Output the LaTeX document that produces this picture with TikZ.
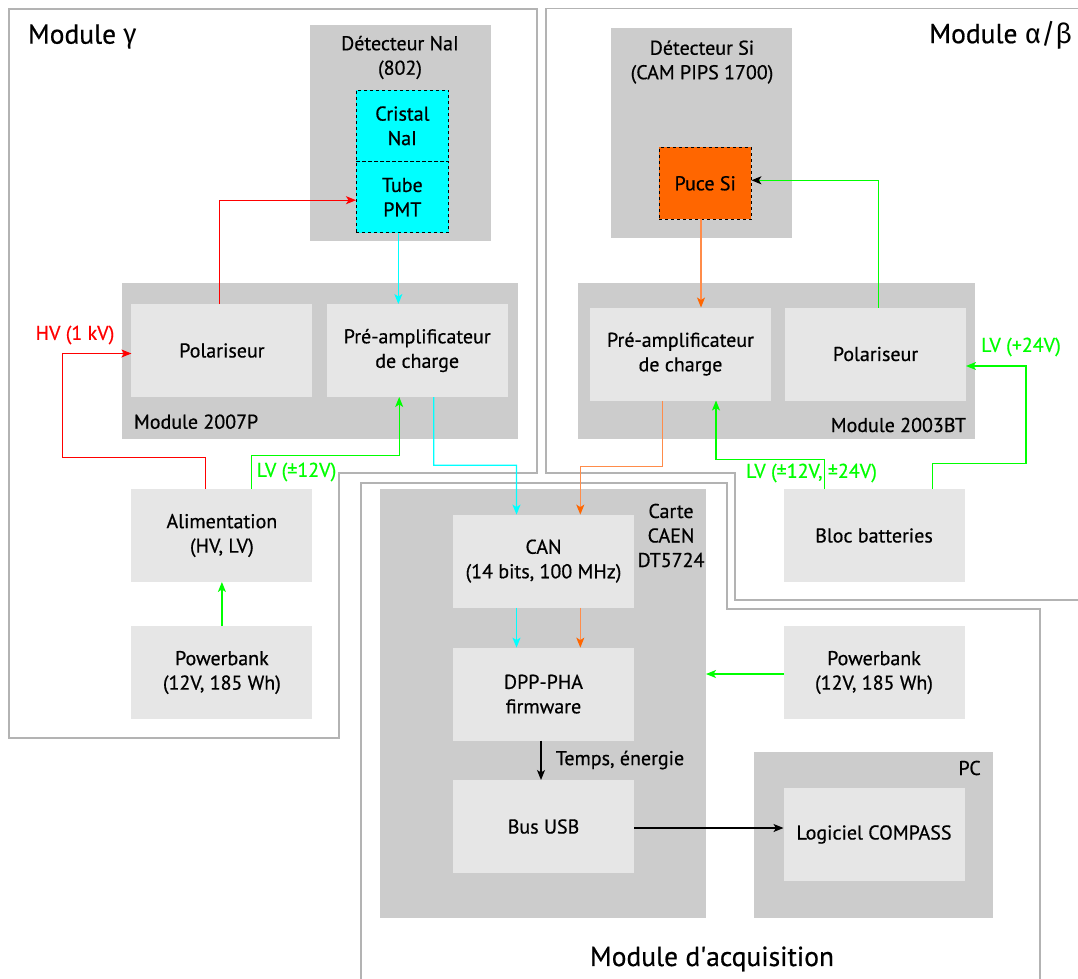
\documentclass[tikz,border=0pt]{standalone}
\usepackage{fontspec}
\setmainfont{PT Sans}[FakeBold=0.6]
\newfontfamily\grk{Fira Sans}
\usetikzlibrary{arrows.meta,calc}
\definecolor{bigg}{HTML}{CCCCCC}
\definecolor{smallg}{HTML}{E6E6E6}
\definecolor{outl}{HTML}{B3B3B3}
\definecolor{cyf}{HTML}{00FFFF}
\definecolor{orf}{HTML}{FF6600}
\definecolor{orln}{HTML}{FF8C4A}
\definecolor{grn}{HTML}{00FF00}
\definecolor{rdd}{HTML}{FF0000}
\newcommand{\sq}{\XeTeXglyph\XeTeXcharglyph"27\relax}
\begin{document}
\begin{tikzpicture}[x=1pt,y=-1pt,
  font=\fontsize{20}{24.5}\selectfont,
  bigbox/.style={anchor=north west, inner sep=0pt, outer sep=0pt, fill=bigg},
  smbox/.style={anchor=north west, inner sep=0pt, outer sep=0pt, fill=smallg, align=center, minimum width=181pt, minimum height=93pt},
  dbox/.style={anchor=north west, inner sep=0pt, outer sep=0pt, draw=black, dashed, line width=0.8pt, align=center},
  lbl/.style={inner sep=0pt, outer sep=0pt, align=center},
  ttl/.style={inner sep=0pt, outer sep=0pt, font=\fontsize{27.5}{32}\selectfont},
  outline/.style={draw=outl, line width=1.2pt},
  tip/.style={-{Stealth[length=10pt,width=8pt,inset=2.5pt]}},
  rdl/.style={draw=rdd, line width=1.2pt, tip},
  grl/.style={draw=grn, line width=1.2pt, tip},
  cyl/.style={draw=cyf, line width=1.2pt, tip},
  orl/.style={draw=orln, line width=1.2pt, -{Stealth[length=10pt,width=8pt,inset=2.5pt,color=orf]}},
  bkl/.style={draw=black, line width=1.2pt, tip}]
\useasboundingbox (0,0) rectangle (1078,979);
\fill[white] (0,0) rectangle (1078,979);

% module outlines
\draw[outline] (9,9) -- (537,9) -- (537,473) -- (339,473) -- (339,738) -- (9,738) -- cycle;
\draw[outline] (1078,600) -- (735,600) -- (735,473) -- (546,473) -- (546,8.5) -- (1078,8.5);
\draw[outline] (1040,979) -- (1040,609) -- (727,609) -- (727,483) -- (361,483) -- (361,979);

% titles
\node[ttl, anchor=west] (tg) at (28,37) {Module {\grk γ}};
\node[ttl, anchor=east] (tab) at (1072,35) {Module {\grk α/β}};
\node[ttl] (tacq) at (712,959) {Module d\sq acquisition};

% Module gamma
\node[bigbox, minimum width=181pt, minimum height=215pt] (dnai) at (309.5,25.5) {};
\node[lbl] (dnail) at (400,57.5) {Détecteur NaI\\(802)};
\node[dbox, fill=cyf, minimum width=92.7pt, minimum height=71.7pt] (cristal) at (356,90) {Cristal\\NaI};
\node[dbox, fill=cyf, minimum width=92.7pt, minimum height=71pt] (tube) at (356,161.7) {Tube\\PMT};
\node[bigbox, minimum width=396pt, minimum height=156pt] (m2007) at (122.4,282.7) {};
\node[lbl, anchor=west] (m2007l) at (134,421.7) {Module 2007P};
\node[smbox] (polg) at (131.4,304) {Polariseur};
\node[smbox] (preg) at (326.7,304) {Pré-amplificateur\\de charge};
\node[smbox] (alim) at (131.4,489) {Alimentation\\(HV, LV)};
\node[smbox] (pbg) at (131.4,626) {Powerbank\\(12V, 185 Wh)};

% Module alpha/beta
\node[bigbox, minimum width=181pt, minimum height=210.6pt] (dsi) at (611.4,27.7) {};
\node[lbl] (dsil) at (702,62) {Détecteur Si\\(CAM PIPS 1700)};
\node[dbox, fill=orf, minimum width=92.4pt, minimum height=72pt] (puce) at (659,147.3) {Puce Si};
\node[bigbox, minimum width=396.5pt, minimum height=156pt] (m2003) at (578,282.7) {};
\node[lbl, anchor=east] (m2003l) at (966,425) {Module 2003BT};
\node[smbox] (prea) at (590,307.5) {Pré-amplificateur\\de charge};
\node[smbox] (pola) at (785,307.5) {Polariseur};
\node[smbox] (bloc) at (783.5,489) {Bloc batteries};

% Acquisition
\node[bigbox, minimum width=326pt, minimum height=428.7pt] (caen) at (380,489) {};
\node[lbl] (caenl) at (671,535.5) {Carte\\CAEN\\DT5724};
\node[smbox] (can) at (453,514.6) {CAN\\(14 bits, 100 MHz)};
\node[smbox] (dpp) at (453,647.6) {DPP-PHA\\firmware};
\node[smbox] (usb) at (453,780) {Bus USB};
\node[smbox] (pbr) at (783.5,626) {Powerbank\\(12V, 185 Wh)};
\node[bigbox, minimum width=238.7pt, minimum height=166pt] (pc) at (754,751.7) {};
\node[lbl] (pcl) at (969.6,768) {PC};
\node[smbox] (logi) at (783.5,788) {Logiciel COMPASS};

% labels
\node[lbl, text=rdd] (hv) at (75,335) {HV (1 kV)};
\node[lbl, text=grn] (lv1) at (296.5,472) {LV (±12V)};
\node[lbl, text=grn] (lv2) at (811.5,473) {LV (±12V, ±24V)};
\node[lbl, text=grn] (lv3) at (1021,347) {LV (+24V)};
\node[lbl] (temps) at (620,760) {Temps, énergie};

% bend coordinates
\coordinate (r1) at (62.6,457.3);
\coordinate (g1) at (399.2,455.7);
\coordinate (c1) at (433.8,465.3);
\coordinate (o1) at (662.8,466.7);
\coordinate (g2) at (1026,463.3);
\coordinate (g3) at (716,459.3);

% connectors
\draw[rdl] ([xshift=74.3pt]alim.north west) |- (r1) |- ([yshift=-3pt]polg.west);
\draw[rdl] ([xshift=88pt]polg.north west) |- ([yshift=-3pt]tube.west);
\draw[cyl] ([xshift=-4pt]tube.south) -- ([xshift=71.65pt]preg.north west);
\draw[grl] ([xshift=120pt]alim.north west) |- (g1) -- ([xshift=72.5pt]preg.south west);
\draw[grl] (pbg.north) -- (alim.south);
\draw[cyl] ([xshift=107pt]preg.south west) -- (c1) -| ([xshift=63.5pt]can.north west);
\draw[orl] ([xshift=-4.2pt]puce.south) -- ([xshift=111pt]prea.north west);
\draw[draw=grn, line width=1.2pt, -{Stealth[length=10pt,width=8pt,inset=2.5pt,color=black]}] ([xshift=93.5pt]pola.north west) |- ([yshift=3pt]puce.east);
\draw[grl] ([xshift=149pt]bloc.north west) |- (g2) |- ([yshift=-12pt]pola.east);
\draw[grl] ([xshift=41pt]bloc.north west) |- (g3) -- ([xshift=126pt]prea.south west);
\draw[orl] ([xshift=72.8pt]prea.south west) -- (o1) -| ([xshift=127.3pt]can.north west);
\draw[cyl] ([xshift=63.5pt]can.south west) -- ([xshift=63.5pt]dpp.north west);
\draw[orl] ([xshift=127.3pt]can.south west) -- ([xshift=127.3pt]dpp.north west);
\draw[bkl] ([xshift=88pt]dpp.south west) -- ([xshift=88pt]usb.north west);
\draw[bkl] ([yshift=-1.5pt]usb.east) -- ([yshift=-1.5pt]usb.east -| logi.west);
\draw[grl] ([yshift=-1.5pt]pbr.west) -- ([yshift=-1.5pt]pbr.west -| caen.east);
\end{tikzpicture}
\end{document}
